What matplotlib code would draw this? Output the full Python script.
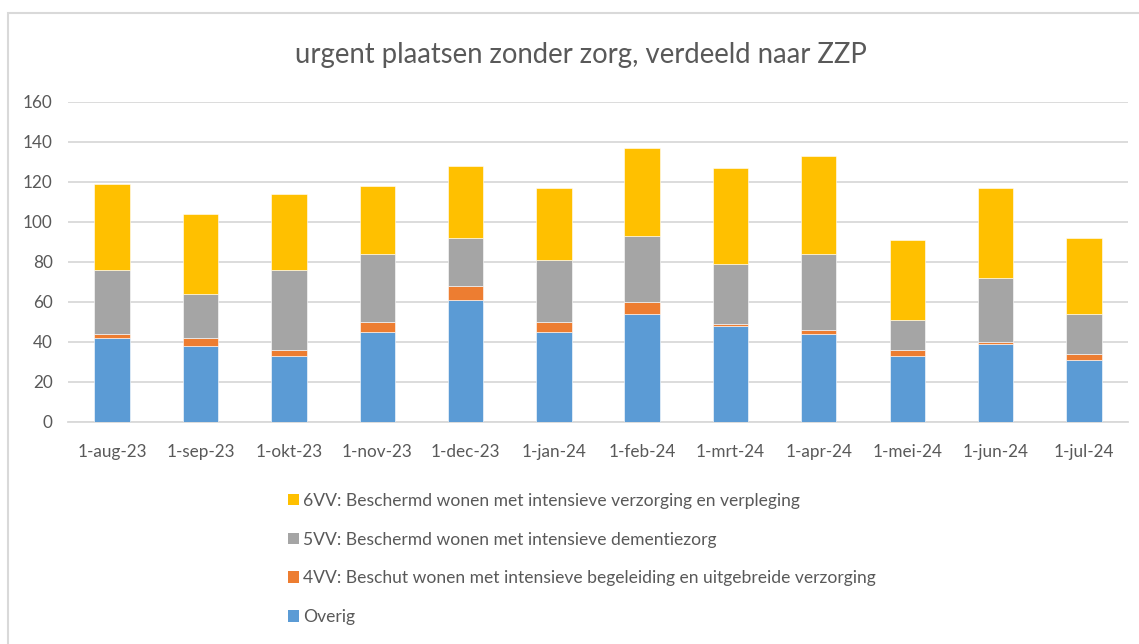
import matplotlib
matplotlib.use("Agg")
import matplotlib.pyplot as plt
from matplotlib.patches import Rectangle, Patch

plt.rcParams['font.family'] = ['Lato', 'DejaVu Sans']

# Data
months = ["1-aug-23", "1-sep-23", "1-okt-23", "1-nov-23", "1-dec-23", "1-jan-24",
          "1-feb-24", "1-mrt-24", "1-apr-24", "1-mei-24", "1-jun-24", "1-jul-24"]
overig = [42, 38, 33, 45, 61, 45, 54, 48, 44, 33, 39, 31]
vv4 = [2, 4, 3, 5, 7, 5, 6, 1, 2, 3, 1, 3]
vv5 = [32, 22, 40, 34, 24, 31, 33, 30, 38, 15, 32, 20]
vv6 = [43, 40, 38, 34, 36, 36, 44, 48, 49, 40, 45, 38]

labels = ["Overig",
          "4VV: Beschut wonen met intensieve begeleiding en uitgebreide verzorging",
          "5VV: Beschermd wonen met intensieve dementiezorg",
          "6VV: Beschermd wonen met intensieve verzorging en verpleging"]
colors = ["#5B9BD5", "#ED7D31", "#A5A5A5", "#FFC000"]
text_color = "#595959"
grid_color = "#D9D9D9"

fig = plt.figure(figsize=(11.39, 6.44), dpi=100)
ax = fig.add_axes([68 / 1139, 1 - 422 / 644, 1060 / 1139, 320 / 644])

x = range(len(months))
bottom = [0] * len(months)
for series, color, label in zip([overig, vv4, vv5, vv6], colors, labels):
    ax.bar(x, series, bottom=bottom, width=0.4, color=color, label=label,
           edgecolor="white", linewidth=0.4, zorder=3)
    bottom = [b + s for b, s in zip(bottom, series)]

ax.set_xlim(-0.5, len(months) - 0.5)
ax.set_ylim(0, 160)
ax.set_yticks(range(0, 161, 20))
ax.set_xticks(list(x))
ax.set_xticklabels(months)
ax.grid(axis="y", color=grid_color, linewidth=1.3, zorder=0)
for s in ["top", "right", "left"]:
    ax.spines[s].set_visible(False)
ax.spines["bottom"].set_color(grid_color)
ax.spines["bottom"].set_linewidth(1.3)
ax.tick_params(axis="both", length=0, colors=text_color, labelsize=12.3)
ax.tick_params(axis="y", pad=11)
ax.tick_params(axis="x", pad=16)

fig.text(0.51, 1 - 55 / 644, "urgent plaatsen zonder zorg, verdeeld naar ZZP",
         ha="center", va="center", fontsize=19.8, color=text_color)

handles = [Patch(facecolor=c) for c in colors][::-1]
leg = fig.legend(handles, labels[::-1], loc="upper left",
                 bbox_to_anchor=(272 / 1139, 1 - 477 / 644), frameon=False,
                 fontsize=12.6, labelcolor=text_color, handlelength=0.63,
                 handleheight=0.63, handletextpad=0.25, labelspacing=1.3)

# outer chart frame
fig.add_artist(Rectangle((8 / 1139, -0.1), 1.2, 1.1 - 13 / 644,
                         transform=fig.transFigure, fill=False,
                         edgecolor=grid_color, linewidth=1.5))

fig.savefig("out.png", dpi=100)
